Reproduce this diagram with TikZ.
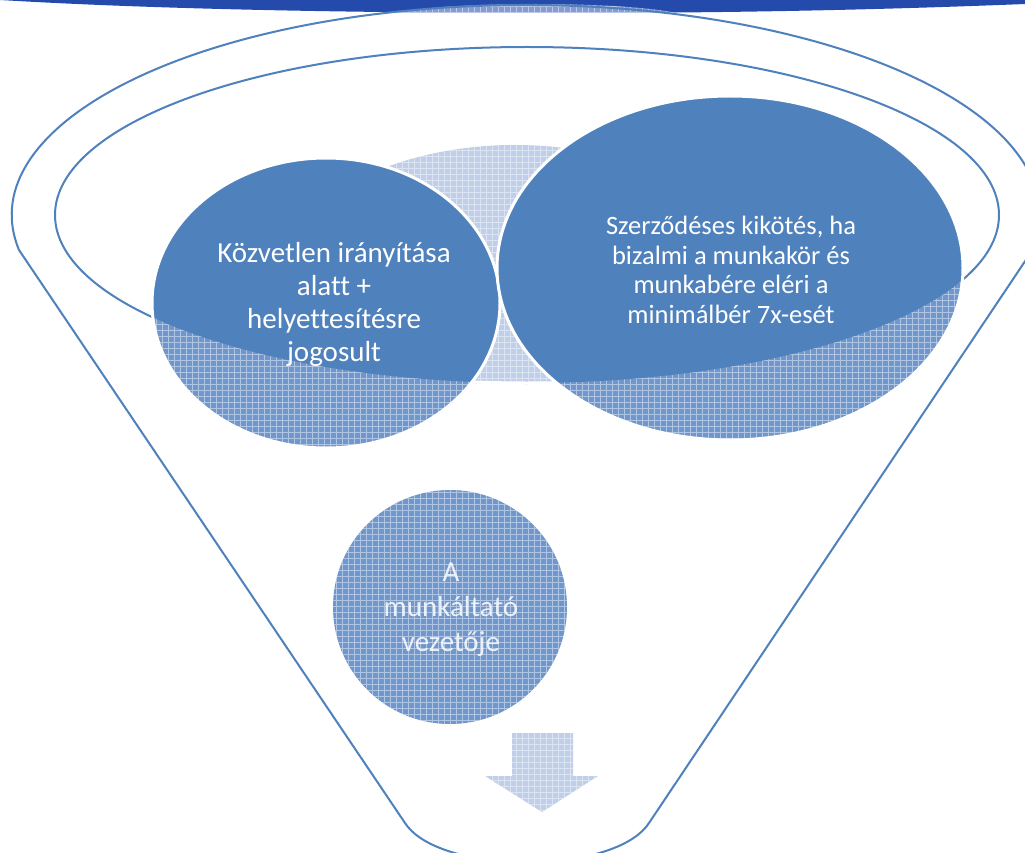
\documentclass[tikz,border=0pt]{standalone}
\usepackage{fontspec}
\setmainfont{Carlito}[Ligatures={NoCommon}]
\definecolor{fblue}{RGB}{79,129,189}
\definecolor{barblue}{RGB}{36,74,172}
\definecolor{patblue}{RGB}{112,151,204}
\definecolor{palepat}{RGB}{192,207,233}
\definecolor{lenspat}{RGB}{135,155,210}
\newcommand\gridover[1]{\begin{scope}\clip #1;\draw[white,opacity=.45,line width=.6pt] (0,0) grid[step=6pt] (1025,853);\end{scope}}
\tikzset{
  funnelline/.style={draw=fblue,line width=2pt},
  rimwhite/.style={draw=white,line width=3pt},
  txt/.style={text=white,align=center,inner sep=0pt},
}
\begin{document}
\begin{tikzpicture}[x=1pt,y=-1pt]
\clip (0,0) rectangle (1025,853);
\fill[white] (0,0) rectangle (1025,853);
% top bar
\fill[barblue] (0,-3) -- (1025,-3) -- (1025,4) .. controls (850,11) and (700,13) .. (560,13) .. controls (350,13) and (150,9) .. (0,0) -- cycle;
\fill[lenspat] (397,13) .. controls (450,1) and (620,1) .. (677,13) -- cycle;
\gridover{(397,13) .. controls (450,1) and (620,1) .. (677,13) -- cycle}
% funnel outline
\coordinate (fl) at (19,250);
\coordinate (flb) at (405,823);
\coordinate (frb) at (649,823);
\coordinate (fbot) at (527,864);
\draw[funnelline] (fl) arc[start angle=189.6,end angle=-9.6,x radius=514pt,y radius=210pt]
  -- (frb) .. controls (636,843) and (599,860) .. (fbot) .. controls (455,860) and (418,843) .. (flb) -- cycle;
% inner rim
\draw[funnelline] (527,215) ellipse [x radius=472pt,y radius=168pt];
% pale back shape
\begin{scope}
  \clip (527,215) ellipse [x radius=472pt,y radius=168pt];
  \fill[palepat] (515,300) ellipse [x radius=250pt,y radius=155pt];
  \gridover{(515,300) ellipse [x radius=250pt,y radius=155pt]}
\end{scope}
\begin{scope}
  \clip (515,300) ellipse [x radius=250pt,y radius=155pt];
  \draw[rimwhite] (527,215) ellipse [x radius=472pt,y radius=168pt];
\end{scope}
% left ellipse
\fill[patblue] (326,303) ellipse [x radius=174pt,y radius=145pt];
\gridover{(326,303) ellipse [x radius=174pt,y radius=145pt]}
\begin{scope}
  \clip (527,215) ellipse [x radius=472pt,y radius=168pt];
  \fill[fblue] (326,303) ellipse [x radius=174pt,y radius=145pt];
\end{scope}
\draw[rimwhite] (326,303) ellipse [x radius=174pt,y radius=145pt];
% right ellipse
\fill[patblue] (730,268) ellipse [x radius=233pt,y radius=172pt];
\gridover{(730,268) ellipse [x radius=233pt,y radius=172pt]}
\begin{scope}
  \clip (527,215) ellipse [x radius=472pt,y radius=168pt];
  \fill[fblue] (730,268) ellipse [x radius=233pt,y radius=172pt];
\end{scope}
\draw[rimwhite] (730,268) ellipse [x radius=233pt,y radius=172pt];
% bottom circle
\fill[patblue] (450,607) circle[radius=117pt];
\gridover{(450,607) circle[radius=117pt]}
% arrow
\fill[palepat] (512,733) -- (573,733) -- (573,776) -- (598,776) -- (542,812) -- (485,776) -- (512,776) -- cycle;
\gridover{(512,733) -- (573,733) -- (573,776) -- (598,776) -- (542,812) -- (485,776) -- (512,776) -- cycle}
% texts
\node[txt,font=\fontsize{29}{33}\selectfont] (lt) at (334,304) {Közvetlen irányítása\\alatt +\\helyettesítésre\\jogosult};
\node[txt,font=\fontsize{26.5}{29.5}\selectfont] (rt) at (731,270) {Szerződéses kikötés, ha\\bizalmi a munkakör és\\munkabére eléri a\\minimálbér 7x-esét};
\node[txt,text opacity=.85,font=\fontsize{29}{35}\selectfont] (bt) at (451,610) {A\\munkáltató\\vezetője};
\end{tikzpicture}
\end{document}
